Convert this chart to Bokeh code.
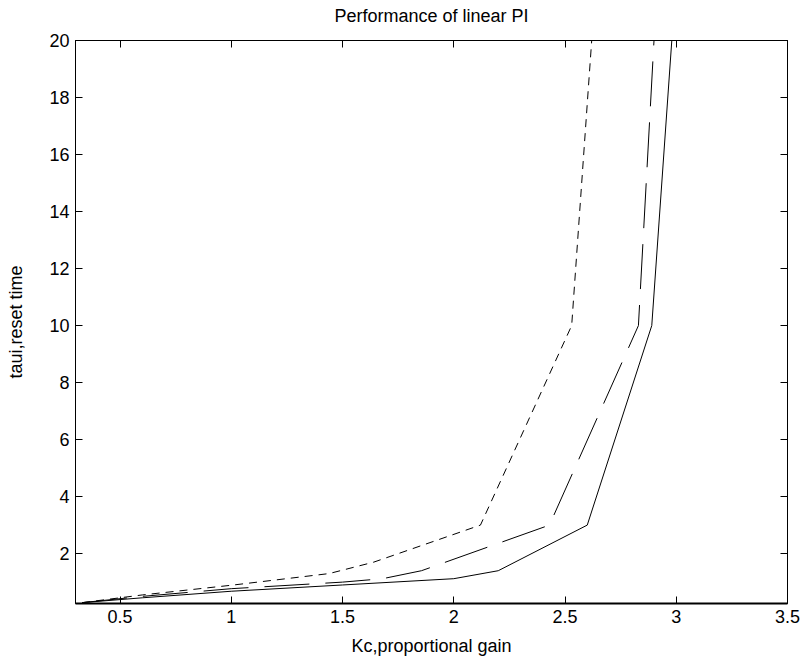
from bokeh.plotting import figure
from bokeh.models import Range1d, FixedTicker, LinearAxis, CustomLabelingPolicy
from bokeh.embed import file_html
from bokeh.resources import INLINE

# Tuning curves: proportional gain vs reset time for three cases
kc_solid = [0.33, 0.6, 1.0, 1.5, 2.0, 2.2, 2.6, 2.89, 2.98]
taui_solid = [0.28, 0.45, 0.68, 0.9, 1.12, 1.4, 3.0, 10.0, 20.0]

kc_dash = [0.33, 0.6, 1.0, 1.5, 1.68, 1.855, 2.43, 2.83, 2.9]
taui_dash = [0.28, 0.5, 0.77, 1.0, 1.12, 1.4, 3.0, 10.0, 20.0]

kc_dot = [0.33, 0.6, 1.0, 1.44, 1.64, 2.12, 2.53, 2.62]
taui_dot = [0.28, 0.55, 0.89, 1.3, 1.7, 3.0, 10.0, 20.0]

x_ticks = [0.5, 1, 1.5, 2, 2.5, 3, 3.5]
x_tick_labels = ["0.5", "1", "1.5", "2", "2.5", "3", "3.5"]
y_ticks = [2, 4, 6, 8, 10, 12, 14, 16, 18, 20]

FONT = "Liberation Sans"
SIZE = "18px"

p = figure(width=806, height=662, output_backend="svg", toolbar_location=None,
           x_range=Range1d(0.3, 3.5), y_range=Range1d(0.25, 20),
           title="Performance of linear PI",
           min_border_left=75, min_border_right=19, min_border_top=40,
           min_border_bottom=59)

p.title.align = "center"
p.title.text_font = FONT
p.title.text_font_size = SIZE
p.title.text_font_style = "normal"
p.title.text_color = "black"
p.title.offset = 0
p.title.standoff = 7

p.background_fill_color = "white"
p.border_fill_color = "white"
p.outline_line_color = "black"
p.outline_line_width = 1
p.grid.visible = False

p.line(kc_solid, taui_solid, line_color="black", line_width=1)
p.line(kc_dash, taui_dash, line_color="black", line_width=1, line_dash="45 16")
p.line(kc_dot, taui_dot, line_color="black", line_width=1, line_dash="8 6")

label_overrides = {float(t): s for t, s in zip(x_ticks, x_tick_labels)}

for ax in p.xaxis:
    ax.ticker = FixedTicker(ticks=x_ticks)
    ax.major_label_overrides = label_overrides
    ax.axis_label = "Kc,proportional gain"
    ax.axis_label_standoff = 10
    ax.axis_line_width = 2
for ax in p.yaxis:
    ax.ticker = FixedTicker(ticks=y_ticks)
    ax.axis_label = "taui,reset time"
    ax.axis_label_standoff = 20

for ax in list(p.xaxis) + list(p.yaxis):
    ax.major_tick_in = 7
    ax.major_tick_out = 0
    ax.minor_tick_line_color = None
    ax.axis_line_color = "black"
    ax.major_tick_line_color = "black"
    ax.major_label_text_font = FONT
    ax.major_label_text_font_size = SIZE
    ax.major_label_text_color = "black"
    ax.axis_label_text_font = FONT
    ax.axis_label_text_font_size = SIZE
    ax.axis_label_text_font_style = "normal"
    ax.axis_label_text_color = "black"
    ax.major_label_standoff = 6

# Box ticks on the top and right edges, without labels
no_labels = CustomLabelingPolicy(code="return new Set()")
top = LinearAxis(ticker=FixedTicker(ticks=x_ticks), major_tick_in=7, major_tick_out=0,
                 minor_tick_line_color=None, major_label_policy=no_labels,
                 major_label_standoff=0, axis_line_color="black")
right = LinearAxis(ticker=FixedTicker(ticks=y_ticks), major_tick_in=7, major_tick_out=0,
                   minor_tick_line_color=None, major_label_policy=no_labels,
                   major_label_standoff=0, axis_line_color="black")
p.add_layout(top, "above")
p.add_layout(right, "right")

open("out.html", "w").write(file_html(p, INLINE))
